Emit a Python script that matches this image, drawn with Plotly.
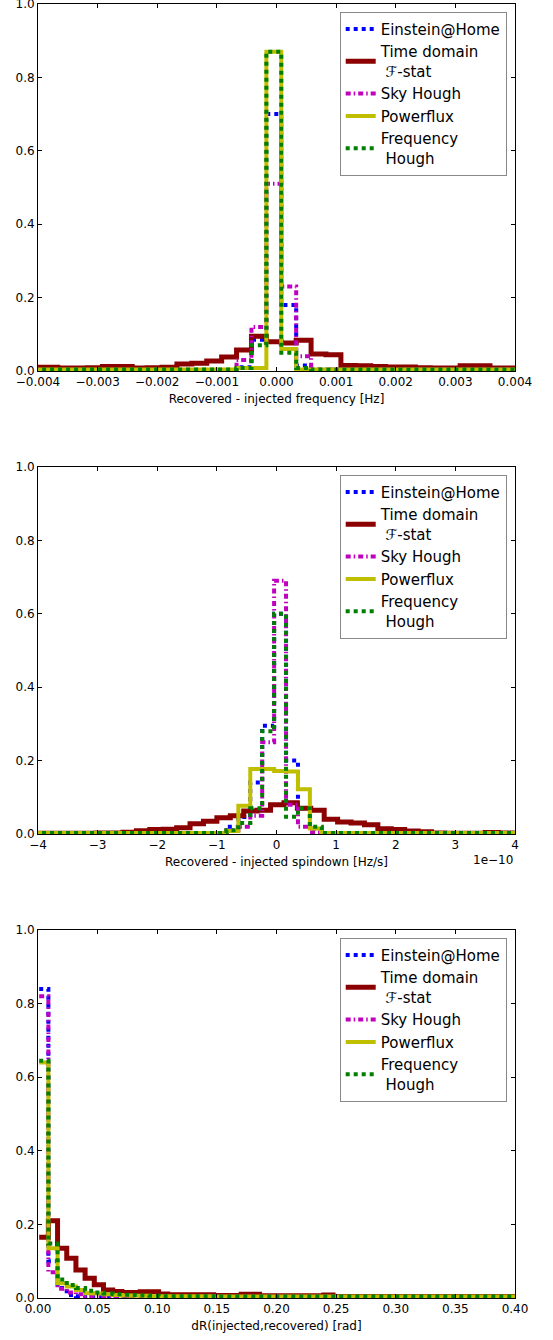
import plotly.graph_objects as go

# ---------------- series names / styles ----------------
NAMES = ["Einstein@Home", "Time domain<br>\u00a0ℱ-stat", "Sky Hough", "Powerflux", "Frequency<br>\u00a0Hough"]

# ---------------- panel 1: frequency difference [Hz] ----------------
F_RED_EDGES = [-0.00417, -0.00392, -0.00367, -0.00342, -0.00317, -0.00292, -0.00267, -0.00242,
               -0.00217, -0.00192, -0.00167, -0.00142, -0.00117, -0.00092, -0.00067, -0.00042,
               -0.00017, 0.00008, 0.00033, 0.00058, 0.00083, 0.00108, 0.00133, 0.00158,
               0.00183, 0.00208, 0.00233, 0.00258, 0.00283, 0.00308, 0.00333, 0.00358,
               0.00383, 0.00408]
F_RED = [0.010, 0.010, 0.008, 0.008, 0.009, 0.012, 0.012, 0.008, 0.009, 0.010, 0.019,
         0.021, 0.027, 0.038, 0.057, 0.095, 0.080, 0.076, 0.084, 0.046, 0.044, 0.015,
         0.014, 0.012, 0.011, 0.011, 0.009, 0.008, 0.008, 0.014, 0.014, 0.008, 0.008]
F_EDGES = [-0.0042, -0.00067, -0.00042, -0.00017, 0.00008, 0.00033, 0.00058, 0.0042]
F_BLUE = [0.003, 0.010, 0.085, 0.700, 0.180, 0.015, 0.003]
F_MAG = [0.003, 0.030, 0.120, 0.510, 0.230, 0.040, 0.004]
F_YEL = [0.004, 0.008, 0.008, 0.870, 0.060, 0.004, 0.004]
F_GRN = [0.004, 0.008, 0.070, 0.870, 0.050, 0.008, 0.004]

# ---------------- panel 2: spindown difference [1e-10 Hz/s] ----------------
S_RED_EDGES = [-4.15, -3.925, -3.7, -3.475, -3.25, -3.025, -2.8, -2.575, -2.35, -2.125, -1.9,
               -1.675, -1.45, -1.225, -1.0, -0.775, -0.55, -0.325, -0.1, 0.125, 0.35, 0.575,
               0.8, 1.025, 1.25, 1.475, 1.7, 1.925, 2.15, 2.375, 2.6, 2.825, 3.05, 3.275,
               3.5, 3.725, 3.95, 4.175]
S_RED = [0.002, 0.002, 0.002, 0.002, 0.002, 0.003, 0.003, 0.005, 0.009, 0.012, 0.013,
         0.017, 0.028, 0.035, 0.044, 0.050, 0.063, 0.065, 0.080, 0.085, 0.070, 0.065,
         0.040, 0.033, 0.030, 0.025, 0.014, 0.012, 0.008, 0.006, 0.003, 0.002, 0.002,
         0.002, 0.004, 0.003, 0.002]
S_EDGES = [-4.2, -0.84, -0.64, -0.44, -0.24, -0.04, 0.16, 0.36, 0.56, 0.76, 4.2]
S_BLUE = [0.003, 0.020, 0.046, 0.140, 0.295, 0.600, 0.200, 0.070, 0.015, 0.003]
S_MAG = [0.003, 0.010, 0.020, 0.050, 0.250, 0.690, 0.080, 0.020, 0.005, 0.003]
S_YEL = [0.003, 0.008, 0.077, 0.177, 0.177, 0.172, 0.170, 0.122, 0.015, 0.003]
S_GRN = [0.003, 0.010, 0.030, 0.070, 0.280, 0.600, 0.047, 0.070, 0.020, 0.003]

# ---------------- panel 3: sky distance [rad] ----------------
R_EDGES = [0.001, 0.0087, 0.0164, 0.0241, 0.0318, 0.0395, 0.0472, 0.0549, 0.0626, 0.0703,
           0.078, 0.0857, 0.0934, 0.1011, 0.1088, 0.1473, 0.1704, 0.1858, 0.2397, 0.2474, 0.41]
R_RED = [0.165, 0.210, 0.135, 0.108, 0.076, 0.054, 0.036, 0.022, 0.018, 0.015, 0.015,
         0.017, 0.017, 0.011, 0.009, 0.007, 0.010, 0.006, 0.008, 0.004]
R_BLUE = [0.840, 0.100, 0.027, 0.008, 0.005, 0.003, 0.003, 0.003, 0.003, 0.003, 0.003,
          0.003, 0.003, 0.003, 0.003, 0.003, 0.003, 0.003, 0.003, 0.003]
R_MAG = [0.820, 0.070, 0.025, 0.015, 0.010, 0.005, 0.004, 0.004, 0.003, 0.003, 0.003,
         0.003, 0.003, 0.003, 0.003, 0.003, 0.003, 0.003, 0.003, 0.003]
R_YEL = [0.640, 0.135, 0.040, 0.031, 0.022, 0.013, 0.012, 0.010, 0.008, 0.007, 0.006,
         0.006, 0.005, 0.005, 0.005, 0.004, 0.004, 0.004, 0.004, 0.004]
R_GRN = [0.645, 0.148, 0.050, 0.035, 0.027, 0.020, 0.015, 0.012, 0.010, 0.009, 0.008,
         0.007, 0.006, 0.005, 0.005, 0.004, 0.004, 0.004, 0.004, 0.004]

X_TITLES = ["Recovered - injected frequency [Hz]", "Recovered - injected spindown [Hz/s]",
            "dR(injected,recovered) [rad]"]
X_TICKS = [[-0.004, -0.003, -0.002, -0.001, 0.0, 0.001, 0.002, 0.003, 0.004],
           [-4, -3, -2, -1, 0, 1, 2, 3, 4],
           [0.0, 0.05, 0.10, 0.15, 0.20, 0.25, 0.30, 0.35, 0.40]]
X_FORMATS = [".3f", "d", ".2f"]
X_RANGES = [[-0.004, 0.004], [-4, 4], [0.0, 0.4]]
Y_TICKS = [0.0, 0.2, 0.4, 0.6, 0.8, 1.0]

STYLES = [
    dict(color="#0000ff", width=4, dash="4px,4px"),
    dict(color="#8b0000", width=5, dash="solid"),
    dict(color="#bf00bf", width=4, dash="5px,3px,1.5px,3px"),
    dict(color="#bfbf00", width=4, dash="solid"),
    dict(color="#008000", width=4, dash="4px,4px"),
]

PANELS = [
    [(F_EDGES, F_BLUE), (F_RED_EDGES, F_RED), (F_EDGES, F_MAG), (F_EDGES, F_YEL), (F_EDGES, F_GRN)],
    [(S_EDGES, S_BLUE), (S_RED_EDGES, S_RED), (S_EDGES, S_MAG), (S_EDGES, S_YEL), (S_EDGES, S_GRN)],
    [(R_EDGES, R_BLUE), (R_EDGES, R_RED), (R_EDGES, R_MAG), (R_EDGES, R_YEL), (R_EDGES, R_GRN)],
]

FONT = "DejaVu Sans"
fig = go.Figure()

# layout geometry (pixels of a 553 x 1340 page)
W, H = 553, 1340
ML, MR, MT, MB = 38, 38, 4, 42
PH = H - MT - MB
panel_px = [(4, 371), (467, 834), (930, 1298)]
legend_top_px = [11.7, 474.7, 937.7]

def ydom(top, bottom):
    return [(H - MB - bottom) / PH, (H - MB - top) / PH]

for p, series in enumerate(PANELS):
    sfx = "" if p == 0 else str(p + 1)
    for i, (edges, vals) in enumerate(series):
        fig.add_trace(go.Scatter(
            x=edges, y=list(vals) + [vals[-1]],
            mode="lines", line=dict(shape="hv", **STYLES[i]),
            name=NAMES[i], xaxis="x" + sfx, yaxis="y" + sfx,
            legend="legend" + sfx, showlegend=True, hoverinfo="skip",
        ))
    axis_common = dict(showline=True, linecolor="black", linewidth=1, mirror="ticks",
                       ticks="inside", ticklen=4, tickwidth=1, tickcolor="black",
                       showgrid=False, zeroline=False, automargin=False,
                       ticklabeloverflow="allow",
                       tickfont=dict(family=FONT, size=12, color="black"))
    fig.layout["xaxis" + sfx] = dict(
        domain=[0, 1], anchor="y" + sfx, range=X_RANGES[p], tickvals=X_TICKS[p],
        tickformat=X_FORMATS[p],
        title=dict(text=X_TITLES[p], font=dict(family=FONT, size=12, color="black"), standoff=6),
        **axis_common)
    fig.layout["yaxis" + sfx] = dict(
        domain=ydom(*panel_px[p]), anchor="x" + sfx, range=[0, 1], tickvals=Y_TICKS,
        tickformat=".1f", **axis_common)
    fig.layout["legend" + sfx] = dict(
        x=0.9826, y=(H - MB - legend_top_px[p]) / PH, xanchor="right", yanchor="top",
        bgcolor="white", bordercolor="#888888", borderwidth=1,
        font=dict(family=FONT, size=15, color="black"), tracegroupgap=0)

fig.add_annotation(text="1e\u221210", xref="x2 domain", yref="y2 domain", x=1.0, y=-0.07,
                   xanchor="right", yanchor="middle", showarrow=False,
                   font=dict(family=FONT, size=12, color="black"))

fig.update_layout(width=W, height=H, margin=dict(l=ML, r=MR, t=MT, b=MB, autoexpand=False),
                  paper_bgcolor="white", plot_bgcolor="white",
                  font=dict(family=FONT, size=12, color="black"))

fig.write_html("out.html", config={"displayModeBar": False},
               post_script="document.body.style.margin='0';"
                           "document.documentElement.style.overflow='hidden';")
